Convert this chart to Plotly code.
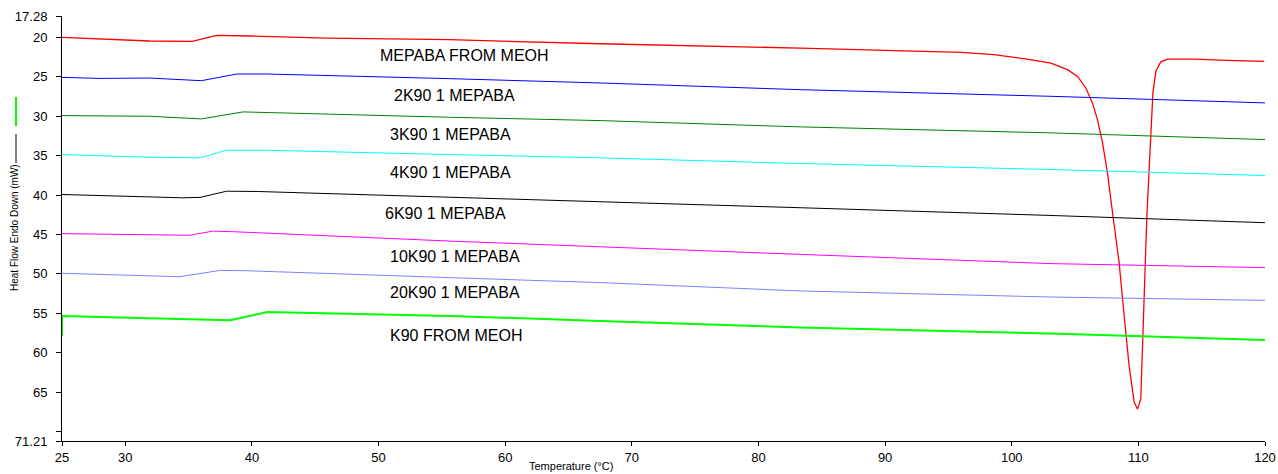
import plotly.graph_objects as go

# ---- data ----
red_T = [25, 28, 31.9, 35.3, 36.2, 37.2, 39.8, 45.9, 55.6, 67.5, 83.3, 93.8, 96.0, 98.6, 101.2,
         103.1, 104.4, 105.2, 105.85, 106.37, 106.77, 107.17, 107.56, 107.96, 108.48, 108.88,
         109.27, 109.67, 109.93, 110.19, 110.33, 110.46, 110.67, 110.95, 111.15, 111.38, 111.77,
         112.3, 114.4, 117.05, 119.94]
red_Y = [20.0, 20.2, 20.45, 20.5, 20.1, 19.75, 19.82, 20.08, 20.29, 20.8, 21.35, 21.77, 21.9, 22.19,
         22.74, 23.25, 24.09, 24.94, 26.41, 28.31, 30.43, 33.38, 37.18, 42.25, 48.58, 55.34, 61.68,
         66.31, 67.16, 65.9, 59.56, 53.23, 42.68, 33.5, 27.0, 24.3, 23.1, 22.74, 22.74, 22.91, 23.04]

blue_T = [25, 28, 31.9, 36.0, 38.8, 41.2, 55.6, 67.5, 83.3, 103.1, 120]
blue_Y = [25.07, 25.2, 25.15, 25.49, 24.64, 24.64, 25.23, 25.78, 26.63, 27.47, 28.31]

green_T = [25, 31.9, 36.0, 39.3, 55.6, 67.5, 83.3, 103.1, 120]
green_Y = [29.92, 30.0, 30.34, 29.45, 30.13, 30.55, 31.35, 32.11, 32.96]

cyan_T = [25, 31.9, 35.9, 38.0, 41.0, 45.9, 55.6, 67.5, 83.3, 103.1, 120]
cyan_Y = [34.86, 35.2, 35.28, 34.31, 34.31, 34.52, 34.86, 35.28, 36.0, 36.76, 37.52]

black_T = [25, 34.5, 35.9, 38.0, 40.5, 55.6, 67.5, 83.3, 103.1, 120]
black_Y = [39.93, 40.35, 40.3, 39.51, 39.55, 40.27, 40.78, 41.61, 42.59, 43.51]

magenta_T = [25, 33.3, 35.1, 36.9, 38.5, 55.6, 67.5, 83.3, 103.1, 120]
magenta_Y = [44.9, 45.12, 45.1, 44.58, 44.65, 45.84, 46.6, 47.53, 48.7, 49.21]

lblue_T = [25, 34.3, 37.5, 39.5, 55.6, 67.5, 83.3, 103.1, 120]
lblue_Y = [49.93, 50.36, 49.56, 49.6, 50.48, 51.11, 52.17, 52.94, 53.36]

lime_T = [25, 25, 31.9, 36.5, 38.3, 41.2, 55.6, 67.5, 83.3, 103.1, 120]
lime_Y = [57.9, 55.34, 55.63, 55.8, 55.89, 54.83, 55.34, 55.97, 56.81, 57.57, 58.38]

labels = ["MEPABA FROM MEOH", "2K90 1 MEPABA", "3K90 1 MEPABA", "4K90 1 MEPABA",
          "6K90 1 MEPABA", "10K90 1 MEPABA", "20K90 1 MEPABA", "K90 FROM MEOH"]
label_T = [49.93, 51.04, 50.75, 50.75, 50.33, 50.77, 50.73, 50.77]
label_Y = [22.32, 27.39, 32.33, 37.18, 42.34, 47.74, 52.38, 57.88]

x_ticks = [25, 30, 40, 50, 60, 70, 80, 90, 100, 110, 120]
y_ticks = [17.28, 20, 25, 30, 35, 40, 45, 50, 55, 60, 65, 70, 71.21]
y_ticktext = ["17.28", "20", "25", "30", "35", "40", "45", "50", "55", "60", "65", "", "71.21"]

series = [
    (red_T, red_Y, "#FF0000", 1.3),
    (blue_T, blue_Y, "#0000FF", 1),
    (green_T, green_Y, "#008000", 1),
    (cyan_T, cyan_Y, "#00FFFF", 1),
    (black_T, black_Y, "#000000", 1),
    (magenta_T, magenta_Y, "#FF00FF", 1),
    (lblue_T, lblue_Y, "#8080FF", 1),
    (lime_T, lime_Y, "#00FF00", 2),
]

fig = go.Figure()
for T, Y, c, w in series:
    fig.add_trace(go.Scatter(x=T, y=Y, mode="lines", line=dict(color=c, width=w),
                             showlegend=False, hoverinfo="skip"))

FONT = "Liberation Sans, Arial, sans-serif"
for t, x, y in zip(labels, label_T, label_Y):
    fig.add_annotation(x=x, y=y, text=t, showarrow=False, xanchor="left", yanchor="middle",
                       font=dict(family=FONT, size=16, color="#000000"))

W, H = 1278, 474
L, R, TOP, B = 62, 13, 16, 33
pw, ph = W - L - R, H - TOP - B

def px(xp):
    return (xp - L) / pw

def py(yp):
    return 1 - (yp - TOP) / ph

fig.add_annotation(xref="paper", yref="paper", x=px(571), y=py(466), text="Temperature (°C)",
                   showarrow=False, xanchor="center", yanchor="middle",
                   font=dict(family=FONT, size=11, color="#000000"))
fig.add_annotation(xref="paper", yref="paper", x=px(15), y=py(228), text="Heat Flow Endo Down (mW)",
                   showarrow=False, textangle=-90, xanchor="center", yanchor="middle",
                   font=dict(family=FONT, size=10, color="#000000"))
fig.add_shape(type="line", xref="paper", yref="paper", x0=px(16), x1=px(16), y0=py(126), y1=py(97),
              line=dict(color="#00FF00", width=2))
fig.add_shape(type="line", xref="paper", yref="paper", x0=px(16), x1=px(16), y0=py(163), y1=py(134),
              line=dict(color="#000000", width=1))

fig.update_layout(
    width=W, height=H, autosize=False,
    margin=dict(l=L, r=R, t=TOP, b=B, pad=0, autoexpand=False),
    paper_bgcolor="white", plot_bgcolor="white",
    showlegend=False,
    xaxis=dict(range=[25, 120], tickvals=x_ticks, ticks="outside", ticklen=4, tickcolor="#000",
               showline=True, linecolor="#000", linewidth=1, showgrid=False, zeroline=False,
               automargin=False,
               tickfont=dict(family=FONT, size=13, color="#000"), mirror=False),
    yaxis=dict(range=[71.21, 17.28], tickvals=y_ticks, ticktext=y_ticktext, ticks="outside",
               ticklen=5, tickcolor="#000", showline=True, linecolor="#000", linewidth=1,
               showgrid=False, zeroline=False, ticklabelstandoff=6, automargin=False,
               tickfont=dict(family=FONT, size=13, color="#000")),
)

fig.write_html("out.html", config={"displayModeBar": False},
               post_script="document.body.style.margin='0';document.body.style.overflow='hidden';")
